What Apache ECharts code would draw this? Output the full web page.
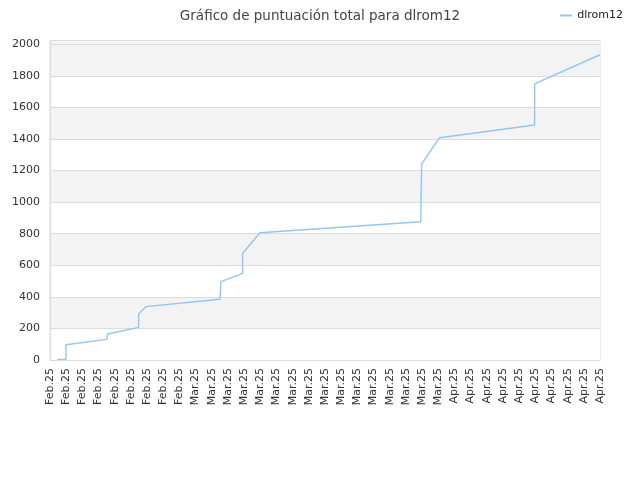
<!DOCTYPE html>
<html>
<head>
<meta charset="utf-8">
<script src="https://cdn.jsdelivr.net/npm/echarts@6/dist/echarts.min.js"></script>
<style>html,body{margin:0;padding:0;background:#fff}#c{width:640px;height:480px}</style>
</head>
<body>
<div id="c"></div>
<script>
const titleText = 'Gráfico de puntuación total para dlrom12';
const seriesName = 'dlrom12';
const tickLabels = [
  'Feb.25','Feb.25','Feb.25','Feb.25','Feb.25','Feb.25','Feb.25','Feb.25','Feb.25',
  'Mar.25','Mar.25','Mar.25','Mar.25','Mar.25','Mar.25','Mar.25','Mar.25',
  'Mar.25','Mar.25','Mar.25','Mar.25','Mar.25','Mar.25','Mar.25','Mar.25',
  'Apr.25','Apr.25','Apr.25','Apr.25','Apr.25','Apr.25','Apr.25','Apr.25','Apr.25','Apr.25'
];
// positions along the date axis (in tick units) and total scores
const pointX = [0.45, 0.99, 0.99, 3.50, 3.57, 5.48, 5.48, 5.93, 10.51, 10.57, 11.91, 11.91, 12.98, 22.92, 22.95, 22.98, 24.07, 29.96, 29.96, 34];
const pointY = [4, 4, 97, 131, 165, 207, 291, 338, 385, 496, 549, 676, 806, 876, 1119, 1242, 1408, 1489, 1749, 1934];

const data = pointX.map((x, i) => [x, pointY[i]]);
const chart = echarts.init(document.getElementById('c'));
chart.setOption({
  animation: false,
  backgroundColor: '#fff',
  title: {
    text: titleText, left: 'center', top: 4,
    textStyle: { fontFamily: 'DejaVu Sans', fontSize: 13.5, fontWeight: 'normal', color: '#444' }
  },
  legend: {
    right: 12, top: 5, itemWidth: 12, itemHeight: 2, itemGap: 8,
    icon: 'rect',
    textStyle: { fontFamily: 'DejaVu Sans', fontSize: 11, color: '#222' },
    data: [seriesName]
  },
  grid: { left: 50, right: 40, top: 40.7, bottom: 120, show: true, borderColor: '#dcdcdc', borderWidth: 1, containLabel: false },
  xAxis: {
    type: 'value', min: 0, max: tickLabels.length - 1, interval: 1,
    axisLine: { show: true, lineStyle: { color: '#dcdcdc' } },
    axisTick: { show: false },
    splitLine: { show: false },
    axisLabel: {
      rotate: 90, margin: 8, fontFamily: 'DejaVu Sans', fontSize: 11, color: '#333',
      formatter: v => tickLabels[Math.round(v)] || ''
    }
  },
  yAxis: {
    type: 'value', min: 0, max: 2023, interval: 200,
    axisLine: { show: true, lineStyle: { color: '#dcdcdc' } },
    axisTick: { show: false },
    axisLabel: { showMaxLabel: false, margin: 10, fontFamily: 'DejaVu Sans', fontSize: 11, color: '#333', formatter: v => String(v) },
    splitLine: { show: true, lineStyle: { color: '#dcdcdc' } },
    splitArea: { show: true, areaStyle: { color: ['#ffffff','#f3f3f3','#ffffff','#f3f3f3','#ffffff','#f3f3f3','#ffffff','#f3f3f3','#ffffff','#f3f3f3','#f3f3f3'] } }
  },
  series: [{
    name: seriesName, type: 'line', data: data, showSymbol: false, symbol: 'none',
    lineStyle: { color: '#92c5f5', width: 1.4 }, itemStyle: { color: '#92c5f5' }
  }]
});
</script>
</body>
</html>
